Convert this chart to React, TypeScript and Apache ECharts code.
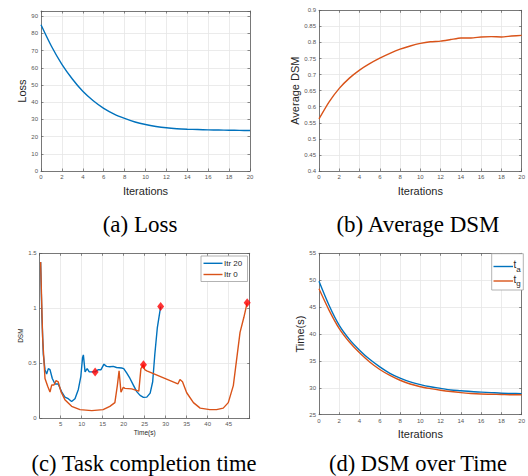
import React, { useEffect, useRef } from 'react';
import * as echarts from 'echarts';

// ---------- data ----------
const iterations = [0, 1, 2, 3, 4, 5, 6, 7, 8, 9, 10, 11, 12, 13, 14, 15, 16, 17, 18, 19, 20];
const lossValues = [85, 72.5, 62, 53.5, 46.3, 40.8, 36.4, 33.1, 30.6, 28.5, 27, 25.9, 25.1, 24.6, 24.3, 24.1, 23.9, 23.8, 23.7, 23.6, 23.5];
const avgDsmValues = [0.562, 0.615, 0.657, 0.689, 0.714, 0.734, 0.751, 0.766, 0.779, 0.789, 0.797, 0.802, 0.804, 0.809, 0.814, 0.814, 0.817, 0.818, 0.817, 0.82, 0.822];
const taValues = [49.8, 45.3, 41.6, 39.0, 37.0, 35.3, 33.9, 32.7, 31.8, 31.1, 30.6, 30.2, 29.9, 29.6, 29.45, 29.3, 29.2, 29.1, 29.0, 28.95, 28.9];
const tgValues = [48.4, 44.4, 41.0, 38.5, 36.5, 34.8, 33.4, 32.3, 31.4, 30.7, 30.2, 29.85, 29.55, 29.3, 29.1, 28.95, 28.85, 28.8, 28.75, 28.7, 28.7];

const itr20Time = [0.22, 0.5, 0.86, 1.26, 1.65, 2.05, 2.45, 3.0, 3.64, 4.4, 5.2, 6.0, 6.8, 7.6, 8.4, 9.2, 9.8, 10.2, 10.4, 10.8, 11.3, 11.8, 13.2, 13.9, 14.6, 15.3, 15.9, 16.7, 17.5, 18.3, 19.5, 20.0, 20.7, 21.5, 22.3, 23.1, 23.9, 24.7, 25.5, 26.3, 26.9, 27.4, 28.0, 28.8];
const itr20Dsm = [1.42, 0.95, 0.58, 0.44, 0.40, 0.45, 0.44, 0.36, 0.31, 0.31, 0.24, 0.19, 0.176, 0.15, 0.176, 0.26, 0.38, 0.55, 0.575, 0.42, 0.45, 0.42, 0.42, 0.44, 0.44, 0.49, 0.47, 0.467, 0.47, 0.46, 0.455, 0.45, 0.41, 0.36, 0.30, 0.24, 0.206, 0.188, 0.19, 0.227, 0.33, 0.576, 0.82, 1.015];

const itr0Time = [0.22, 0.7, 1.26, 1.9, 2.45, 2.85, 3.4, 3.9, 4.4, 5.07, 6.0, 7.6, 9.6, 12.4, 15.1, 16.7, 17.9, 18.5, 18.9, 19.35, 19.9, 20.3, 21.9, 23.2, 23.6, 24.1, 24.7, 25.0, 25.5, 32.9, 33.4, 34.0, 35.0, 36.6, 38.2, 40.5, 42.1, 43.7, 44.9, 46.1, 47.7, 48.6, 49.4];
const itr0Dsm = [1.42, 0.73, 0.36, 0.29, 0.236, 0.30, 0.30, 0.34, 0.33, 0.24, 0.167, 0.106, 0.076, 0.067, 0.076, 0.106, 0.14, 0.30, 0.43, 0.235, 0.28, 0.27, 0.265, 0.25, 0.245, 0.45, 0.485, 0.44, 0.43, 0.31, 0.35, 0.33, 0.23, 0.14, 0.09, 0.076, 0.076, 0.09, 0.14, 0.295, 0.78, 0.915, 1.05];

const markerTime = [13.2, 28.8, 24.7, 49.4];
const markerDsm = [0.42, 1.015, 0.485, 1.05];

// ---------- style ----------
const BLUE = '#0072BD';
const ORANGE = '#D95319';
const SANS = '"Liberation Sans", Arial, Helvetica, sans-serif';
const SERIF = '"Liberation Serif", "Times New Roman", serif';
const AXIS_COLOR = '#5a5a5a';
const GRID_COLOR = '#e6e6e6';

function axisPair(
  kind: 'x' | 'y',
  gridIndex: number,
  min: number,
  max: number,
  interval: number,
  labelFont: number,
  name: string,
  nameGap: number,
  nameSize: number,
  formatter?: (v: number) => string
) {
  const common = {
    type: 'value',
    gridIndex,
    min,
    max,
    interval,
    axisLine: { show: true, onZero: false, lineStyle: { color: AXIS_COLOR, width: 0.8 } },
    axisTick: { show: true, inside: true, length: 2.5, lineStyle: { color: AXIS_COLOR, width: 0.7 } },
  };
  const main: any = {
    ...common,
    position: kind === 'x' ? 'bottom' : 'left',
    name,
    nameLocation: 'middle',
    nameGap,
    nameTextStyle: { fontFamily: SANS, fontSize: nameSize, color: '#262626' },
    splitLine: { show: true, lineStyle: { color: GRID_COLOR, width: 0.8 } },
    axisLabel: {
      fontFamily: SANS,
      fontSize: labelFont,
      color: '#555',
      margin: 3,
      formatter: formatter || ((v: number) => String(+v.toFixed(4))),
    },
  };
  const mirror: any = {
    ...common,
    position: kind === 'x' ? 'top' : 'right',
    splitLine: { show: false },
    axisLabel: { show: false },
  };
  return [main, mirror];
}

const App: React.FC = () => {
  const ref = useRef<HTMLDivElement>(null);

  useEffect(() => {
    if (!ref.current) return;
    const chart = echarts.init(ref.current, undefined, { renderer: 'svg' });

    const grids = [
      { left: 41, top: 11, width: 209, height: 160 },
      { left: 319, top: 10.3, width: 209, height: 160.7 },
      { left: 39.7, top: 253.3, width: 210, height: 164.7 },
      { left: 319, top: 253.3, width: 209, height: 161.4 },
    ].map((g) => ({ ...g, show: false, containLabel: false }));

    const xAxes = [
      ...axisPair('x', 0, 0, 20, 2, 6, 'Iterations', 14, 11),
      ...axisPair('x', 1, 0, 20, 2, 6, 'Iterations', 14, 11),
      ...axisPair('x', 2, 0, 50, 5, 6, 'Time(s)', 11, 6.5, (v: number) => (v === 0 || v === 50 ? '' : String(v))),
      ...axisPair('x', 3, 0, 20, 2, 6, 'Iterations', 13.5, 11),
    ];
    const yAxes = [
      ...axisPair('y', 0, 0, 93, 10, 6, 'Loss', 13, 11, (v: number) => (v % 10 === 0 ? String(v) : '')),
      ...axisPair('y', 1, 0.4, 0.9, 0.05, 6, 'Average DSM', 18.5, 11),
      ...axisPair('y', 2, 0, 1.5, 0.5, 6, 'DSM', 14, 6.5),
      ...axisPair('y', 3, 25, 55, 5, 6, 'Time(s)', 12, 11),
    ];

    const pairs = (xs: number[], ys: number[]) => xs.map((x, i) => [x, ys[i]]);
    const lineSeries = (name: string, xi: number, yi: number, data: number[][], color: string, smooth: number | boolean = false) => ({
      name,
      type: 'line',
      xAxisIndex: xi,
      yAxisIndex: yi,
      data,
      smooth,
      showSymbol: false,
      symbol: 'none',
      lineStyle: { color, width: 1.4 },
      itemStyle: { color },
      z: 3,
    });

    const txt = (text: string, x: number, y: number, fontSize: number, font: string, color = '#000', align = 'center') => ({
      type: 'text',
      x,
      y,
      z: 100,
      style: { text, fontSize, fontFamily: font, fill: color, textAlign: align, textVerticalAlign: 'middle' },
    });
    const seg = (x1: number, x2: number, y: number, color: string) => ({
      type: 'line',
      z: 101,
      shape: { x1, y1: y, x2, y2: y },
      style: { stroke: color, lineWidth: 1.4 },
    });

    const graphic = [
      txt('(a) Loss', 140, 224, 23, SERIF),
      txt('(b) Average DSM', 418, 224.5, 23, SERIF),
      txt('(c) Task completion time', 144, 463.5, 22.5, SERIF),
      txt('(d) DSM over Time', 418, 463.5, 22.5, SERIF),
      // legend (c)
      {
        type: 'rect',
        z: 100,
        shape: { x: 201, y: 256, width: 46.5, height: 25.5 },
        style: { fill: '#fff', stroke: '#a0a0a0', lineWidth: 0.8 },
      },
      seg(203.5, 222.5, 263.3, BLUE),
      txt('Itr 20', 224, 263.3, 8, SANS, '#262626', 'left'),
      seg(203.5, 222.5, 274.5, ORANGE),
      txt('Itr 0', 224, 274.5, 8, SANS, '#262626', 'left'),
      // legend (d)
      {
        type: 'rect',
        z: 100,
        shape: { x: 491.7, y: 253.7, width: 31.6, height: 36.3 },
        style: { fill: '#fff', stroke: '#a0a0a0', lineWidth: 0.8 },
      },
      seg(493.5, 513, 266.5, BLUE),
      txt('t', 513.5, 264.5, 10, SANS, '#262626', 'left'),
      txt('a', 516.3, 269, 8, SANS, '#262626', 'left'),
      seg(493.5, 513, 281, ORANGE),
      txt('t', 513.5, 279, 10, SANS, '#262626', 'left'),
      txt('g', 516.3, 283.5, 8, SANS, '#262626', 'left'),
    ];

    chart.setOption({
      animation: false,
      backgroundColor: '#ffffff',
      grid: grids,
      xAxis: xAxes,
      yAxis: yAxes,
      series: [
        lineSeries('Loss', 0, 0, pairs(iterations, lossValues), BLUE, 0.3),
        lineSeries('Average DSM', 2, 2, pairs(iterations, avgDsmValues), ORANGE, 0.2),
        lineSeries('Itr 20', 4, 4, pairs(itr20Time, itr20Dsm), BLUE),
        lineSeries('Itr 0', 4, 4, pairs(itr0Time, itr0Dsm), ORANGE),
        {
          name: 'completion',
          type: 'scatter',
          xAxisIndex: 4,
          yAxisIndex: 4,
          data: pairs(markerTime, markerDsm),
          symbol: 'diamond',
          symbolSize: [7, 9],
          itemStyle: { color: '#ff0000' },
          z: 5,
        },
        lineSeries('t_a', 6, 6, pairs(iterations, taValues), BLUE, 0.3),
        lineSeries('t_g', 6, 6, pairs(iterations, tgValues), ORANGE, 0.3),
      ],
      graphic,
    });

    return () => chart.dispose();
  }, []);

  return (
    <div style={{ position: 'absolute', left: 0, top: 0, width: 528, height: 476, overflow: 'hidden', background: '#fff' }}>
      <div ref={ref} style={{ width: 528, height: 476 }} />
    </div>
  );
};

export default App;
